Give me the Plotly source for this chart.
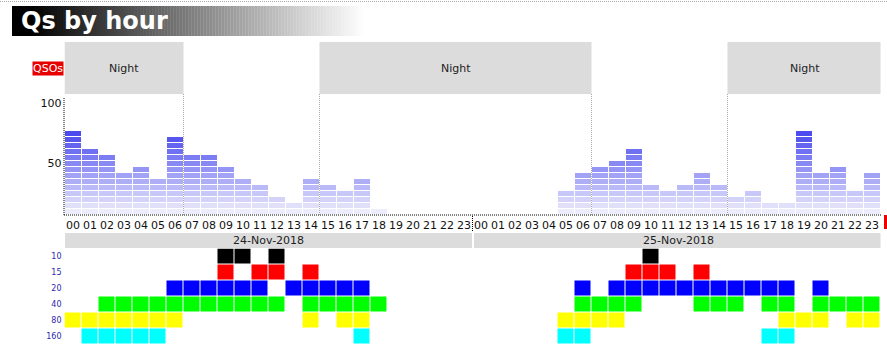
import plotly.graph_objects as go

# ---------------- data ----------------
hour_labels = [f"{h:02d}" for h in range(24)] * 2
dates = ["24-Nov-2018", "25-Nov-2018"]

qsos_day1 = [70, 55, 50, 35, 40, 30, 65, 50, 50, 40, 30, 25, 15, 10, 30, 25, 20, 30, 5, 0, 0, 0, 0, 0]
qsos_day2 = [0, 0, 0, 0, 0, 20, 35, 40, 45, 55, 25, 20, 25, 35, 25, 15, 20, 10, 10, 70, 35, 40, 20, 35]

y_ticks = [50, 100]

# night spans as (first hour index, end hour index) across both days
night_spans = [(0, 7), (15, 31), (39, 48)]

band_names = ["10", "15", "20", "40", "80", "160"]
band_colors = ["#000000", "#ff0000", "#0000ff", "#00ff00", "#ffff00", "#00ffff"]
band_10 = [9, 10, 12, 34]
band_15 = [9, 11, 12, 14, 33, 34, 35, 37]
band_20 = [6, 7, 8, 9, 10, 11, 13, 14, 15, 16, 17, 30, 32, 33, 34, 35, 36, 37, 38, 39, 40, 41, 42, 44]
band_40 = [2, 3, 4, 5, 6, 7, 8, 9, 10, 11, 12, 14, 15, 16, 17, 18, 30, 31, 32, 33, 37, 38, 39, 41, 42, 44, 45, 46, 47]
band_80 = [0, 1, 2, 3, 4, 5, 6, 14, 16, 17, 29, 30, 31, 32, 42, 43, 44, 46, 47]
band_160 = [1, 2, 3, 4, 5, 17, 29, 30, 41, 42]
band_hours = [band_10, band_15, band_20, band_40, band_80, band_160]

# ---------------- geometry helpers ----------------
W, H = 887, 356
def px(x):
    return x / W
def py(y):
    return 1 - y / H

qsos = qsos_day1 + qsos_day2
n = len(qsos)
xs = list(range(n))
SEG = 5  # QSOs per segment

fig = go.Figure()

# stacked segment bars
max_seg = max(q // SEG for q in qsos)
c_lo = (236, 236, 252)
c_hi = (75, 75, 239)
for k in range(1, max_seg + 1):
    t = (k - 1) / (max_seg - 1)
    col = "rgb(%d,%d,%d)" % tuple(round(c_lo[i] + (c_hi[i] - c_lo[i]) * t) for i in range(3))
    yv = [SEG * 5 / 6 if q // SEG >= k else None for q in qsos]
    fig.add_trace(go.Bar(
        x=xs, y=yv, base=[(k - 1) * SEG + SEG / 6] * n, width=16 / 17,
        marker=dict(color=col, line=dict(width=0)),
        showlegend=False, hoverinfo="skip", xaxis="x", yaxis="y"))

# band grid heatmap
z = [[(r if h in band_hours[r] else None) for h in range(n)] for r in range(len(band_names))]
cs = []
for i, c in enumerate(band_colors):
    cs.append([i / len(band_colors), c])
    cs.append([(i + 1) / len(band_colors), c])
fig.add_trace(go.Heatmap(
    z=z, x=xs, y=list(range(len(band_names))), zmin=-0.5, zmax=len(band_names) - 0.5,
    colorscale=cs, showscale=False, xgap=1, ygap=1, hoverinfo="skip",
    xaxis="x2", yaxis="y2"))

xdom = [px(64.5), px(880.5)]
fig.update_layout(
    width=W, height=H, margin=dict(l=0, r=0, t=0, b=0, autoexpand=False),
    paper_bgcolor="white", plot_bgcolor="rgba(0,0,0,0)",
    barmode="overlay", font=dict(family="DejaVu Sans", color="#222"),
    xaxis=dict(domain=xdom, range=[-0.5, n - 0.5], showgrid=False, zeroline=False, automargin=False,
               showline=False, ticks="", tickmode="array", tickvals=xs, ticktext=hour_labels,
               tickfont=dict(size=11, color="#111"), tickangle=0, fixedrange=True,
               ticklabelstandoff=2),
    yaxis=dict(domain=[py(215), py(95)], range=[0, 100], showgrid=False, zeroline=False, automargin=False,
               showline=False, ticks="", tickvals=y_ticks, ticktext=[str(v) for v in y_ticks],
               tickfont=dict(size=11, color="#111"), ticklabelshift=8, ticklabelstandoff=2),
    xaxis2=dict(domain=xdom, range=[-0.5, n - 0.5], anchor="y2", showgrid=False, zeroline=False,
                automargin=False, showline=False, showticklabels=False, ticks=""),
    yaxis2=dict(domain=[py(344.5), py(248.5)], range=[len(band_names) - 0.5, -0.5], anchor="x2",
                showgrid=False, zeroline=False, showline=False, ticks="", automargin=False,
                tickvals=list(range(len(band_names))), ticktext=band_names,
                tickfont=dict(size=8, color="#2a2ab0"), ticklabelstandoff=2),
)

shapes = []
annos = []
dot_gray = dict(color="#aaaaaa", width=1, dash="1px,1px")
dot_black = dict(color="#000000", width=1, dash="1px,1px")

# top dotted line
shapes.append(dict(type="line", xref="paper", yref="paper", x0=0, x1=1, y0=py(1.5), y1=py(1.5), line=dot_gray))

# title gradient
x_start, x_end = 12, 365
steps = 118
for i in range(steps):
    a = x_start + (x_end - x_start) * i / steps
    b = x_start + (x_end - x_start) * (i + 1) / steps
    mid = (a + b) / 2
    t = max(0.0, min(1.0, (mid - 32) / (365 - 32)))
    g = round(255 * t ** 0.95)
    shapes.append(dict(type="rect", xref="paper", yref="paper", x0=px(a), x1=px(b + 0.3),
                       y0=py(36), y1=py(6), fillcolor=f"rgb({g},{g},{g})", line=dict(width=0),
                       layer="below"))
annos.append(dict(text="<b>Qs by hour</b>", xref="paper", yref="paper", x=px(19), y=py(21),
                  xanchor="left", yanchor="middle", showarrow=False,
                  font=dict(family="DejaVu Sans", size=24, color="white")))

# night bands
for s, e in night_spans:
    x1 = e - 0.5 if e < n else n - 0.5 + 1.3 / 17
    shapes.append(dict(type="rect", xref="x", yref="paper", x0=s - 0.5, x1=x1,
                       y0=py(94), y1=py(42), fillcolor="#dcdcdc", line=dict(width=0), layer="below"))
    annos.append(dict(text="Night", xref="x", yref="paper", x=(s - 0.5 + x1) / 2, y=py(69),
                      xanchor="center", yanchor="middle",
                      showarrow=False, font=dict(size=11, color="#222")))
    for b in (s, e):
        if 0 < b < n:
            shapes.append(dict(type="line", xref="x", yref="paper", x0=b - 0.5, x1=b - 0.5,
                               y0=py(215), y1=py(94), line=dot_gray))

# axes dotted lines
shapes.append(dict(type="line", xref="paper", yref="paper", x0=px(64), x1=px(64),
                   y0=py(215), y1=py(97), line=dot_black))
shapes.append(dict(type="line", xref="paper", yref="paper", x0=px(64), x1=px(882),
                   y0=py(215), y1=py(215), line=dot_black))
shapes.append(dict(type="line", xref="x", yref="paper", x0=23.5, x1=23.5,
                   y0=py(231), y1=py(215), line=dot_black))
shapes.append(dict(type="rect", xref="paper", yref="paper", x0=px(884), x1=px(888),
                   y0=py(229), y1=py(215), fillcolor="#ee0000", line=dict(width=0)))

# date bands
for d, label in enumerate(dates):
    x0 = d * 24 - 0.5 + (0.03 if d == 0 else 1.5 / 17)
    x1 = d * 24 + 23.5 + (-0.5 / 17 if d == 0 else 1.5 / 17)
    shapes.append(dict(type="rect", xref="x", yref="paper", x0=x0, x1=x1,
                       y0=py(248), y1=py(233), fillcolor="#dcdcdc", line=dict(width=0), layer="below"))
    annos.append(dict(text=label, xref="x", yref="paper", x=(x0 + x1) / 2, y=py(240.5),
                      xanchor="center", yanchor="middle",
                      showarrow=False, font=dict(size=11, color="#222")))

# QSOs label
annos.append(dict(text="QSOs", xref="paper", yref="paper", x=px(64), y=py(68),
                  xanchor="right", yanchor="middle", showarrow=False, bgcolor="#e60000",
                  borderpad=0, font=dict(size=11, color="white")))

fig.update_layout(shapes=shapes, annotations=annos)
fig.write_html("out.html", config={"displayModeBar": False},
               post_script="document.body.style.margin='0';")
